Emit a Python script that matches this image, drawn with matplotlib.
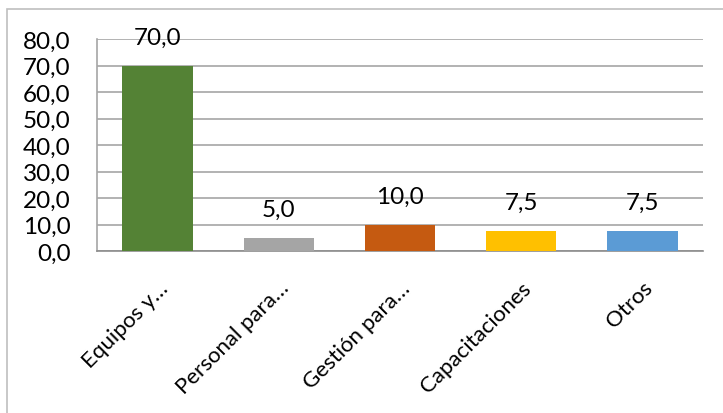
import matplotlib.pyplot as plt
from matplotlib.patches import Rectangle

categorias = ["Equipos y…", "Personal para…", "Gestión para…", "Capacitaciones", "Otros"]
valores = [70.0, 5.0, 10.0, 7.5, 7.5]
colores = ["#548235", "#A5A5A5", "#C55A11", "#FFC000", "#5B9BD5"]
yticks = [0, 10, 20, 30, 40, 50, 60, 70, 80]

plt.rcParams['font.family'] = ['Lato', 'DejaVu Sans']

fig = plt.figure(figsize=(7.23, 4.14), dpi=100)
W, H = 723, 414
ax = fig.add_axes([97 / W, 1 - 252 / H, (703 - 97) / W, (252 - 40) / H])

# marco exterior del grafico
fig.patches.append(Rectangle((7 / W, -0.01), 1.0, 1 - 10 / H + 0.01, transform=fig.transFigure,
                             fill=False, edgecolor="#BFBFBF", linewidth=1.2))

x = range(len(categorias))
barras = ax.bar(x, valores, width=0.58, color=colores, zorder=3)

for xi, v in zip(x, valores):
    ax.annotate(f"{v:.1f}".replace(".", ","), (xi, v), xytext=(0, 13), textcoords="offset points",
                ha="center", va="bottom", fontsize=17.5, color="#000000")

ax.set_xlim(-0.5, len(categorias) - 0.5)
ax.set_ylim(0, 80)
ax.set_yticks(yticks)
ax.set_yticklabels([f"{t:.1f}".replace(".", ",") for t in yticks], fontsize=17.5)
ax.yaxis.grid(True, color="#A6A6A6", linewidth=1.2, zorder=0)
ax.tick_params(axis="y", length=0, pad=19)
ax.tick_params(axis="x", length=0, pad=19)
ax.set_xticks(list(x))
ax.set_xticklabels(categorias, rotation=45, ha="right", rotation_mode="anchor", fontsize=16)

for s in ["top", "right"]:
    ax.spines[s].set_visible(False)
ax.spines["left"].set_color("#A6A6A6")
ax.spines["bottom"].set_color("#8C8C8C")
ax.spines["left"].set_linewidth(1.2)
ax.spines["bottom"].set_linewidth(1.2)

fig.savefig("out.png", dpi=100)
